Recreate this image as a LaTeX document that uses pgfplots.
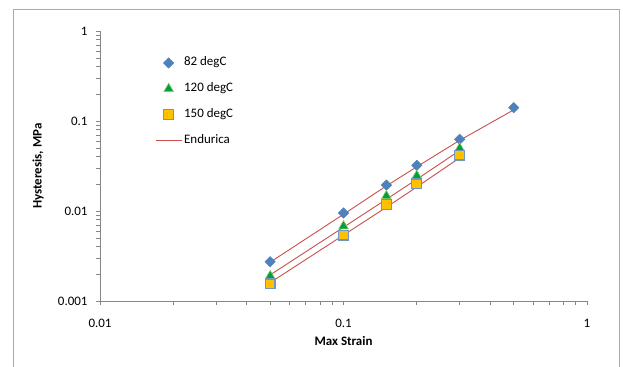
\documentclass[border=0pt]{standalone}
\usepackage{pgfplots}
\pgfplotsset{compat=1.18}
\usepackage{fontspec}
\setmainfont{Carlito}
\definecolor{axgray}{RGB}{134,134,134}
\definecolor{framegray}{RGB}{170,170,170}
\definecolor{dblue}{RGB}{79,129,189}
\definecolor{tgreen}{RGB}{0,160,60}
\definecolor{tgreenedge}{RGB}{140,200,90}
\definecolor{sqfill}{RGB}{255,192,0}
\definecolor{sqedge}{RGB}{110,150,200}
\definecolor{lred}{RGB}{200,80,77}
\begin{document}
\begin{tikzpicture}[x=1bp,y=1bp]
\useasboundingbox (0,0) rectangle (623,366);
\draw[framegray, line width=0.8bp] (13,-20) rectangle (619,357);
\begin{axis}[
  at={(100bp,65bp)}, anchor=south west,
  scale only axis, width=487bp, height=270bp,
  xmode=log, ymode=log,
  xmin=0.01, xmax=1, ymin=0.001, ymax=1,
  axis lines=left,
  axis line style={axgray, line width=0.8bp, -},
  tick style={axgray, line width=0.8bp},
  tick align=outside,
  major tick length=4bp, minor tick length=4bp,
  xtick={0.01,0.1,1}, xticklabels={0.01,0.1,1},
  minor xtick={0.02,0.03,0.04,0.05,0.06,0.07,0.08,0.09,0.2,0.3,0.4,0.5,0.6,0.7,0.8,0.9},
  ytick={0.001,0.01,0.1,1}, yticklabels={0.001,0.01,0.1,1},
  minor ytick={0.002,0.003,0.004,0.005,0.006,0.007,0.008,0.009,0.02,0.03,0.04,0.05,0.06,0.07,0.08,0.09,0.2,0.3,0.4,0.5,0.6,0.7,0.8,0.9},
  tick label style={font=\fontsize{13}{15}\selectfont, black},
  xticklabel style={anchor=center, yshift=-18bp},
  yticklabel style={anchor=east, xshift=-5bp},
  xlabel={Max Strain}, ylabel={Hysteresis, MPa},
  every axis x label/.style={at={(axis description cs:0.5,0)}, anchor=center, yshift=-40bp, font=\bfseries\fontsize{13}{15}\selectfont},
  every axis y label/.style={at={(axis description cs:-0.127,0.5)}, anchor=center, rotate=90, font=\bfseries\fontsize{13}{15}\selectfont},
  legend image code/.code={\draw[mark repeat=2,mark phase=2,#1] plot coordinates {(0bp,0bp) (13bp,0bp) (26bp,0bp)};},
  legend style={at={(axis description cs:0.113,0.912)}, anchor=north west, draw=none, fill=none, inner sep=0pt,
    font=\fontsize{13}{15}\selectfont, row sep=9.8bp,
    nodes={inner sep=2bp, text height=9bp, text depth=3bp}},
  legend cell align=left,
]
% Endurica model lines (drawn beneath markers)
\addplot[lred, line width=0.9bp, forget plot] coordinates {(0.05,0.0027) (0.1,0.0092) (0.15,0.019) (0.2,0.031) (0.3,0.061) (0.5,0.133)};
\addplot[lred, line width=0.9bp, forget plot] coordinates {(0.05,0.00195) (0.1,0.0066) (0.15,0.0135) (0.2,0.0225) (0.3,0.047)};
\addplot[lred, line width=0.9bp, forget plot] coordinates {(0.05,0.0016) (0.1,0.0054) (0.15,0.011) (0.2,0.0185) (0.3,0.039)};
% 82 degC
\addplot[only marks, mark=square*, mark size=3.7bp, mark options={rotate=45, fill=dblue, draw=dblue}] coordinates {(0.05,0.00273) (0.1,0.0095) (0.15,0.0194) (0.2,0.0322) (0.3,0.0626) (0.5,0.1406)};
\addlegendentry{82 degC}
% 120 degC
\addplot[only marks, mark=triangle*, mark size=5.5bp, mark options={fill=tgreen, draw=tgreenedge, line width=0.6bp}] coordinates {(0.05,0.0019) (0.1,0.0068) (0.15,0.0147) (0.2,0.0247) (0.3,0.0497)};
\addlegendentry{120 degC}
% 150 degC
\addplot[only marks, mark=square*, mark size=4.9bp, mark options={fill=sqfill, draw=sqedge, line width=1.2bp}] coordinates {(0.05,0.00155) (0.1,0.0054) (0.15,0.0118) (0.2,0.02) (0.3,0.0419)};
\addlegendentry{150 degC}
\addlegendimage{lred, line width=0.9bp}
\addlegendentry{Endurica}
\end{axis}
\end{tikzpicture}
\end{document}
